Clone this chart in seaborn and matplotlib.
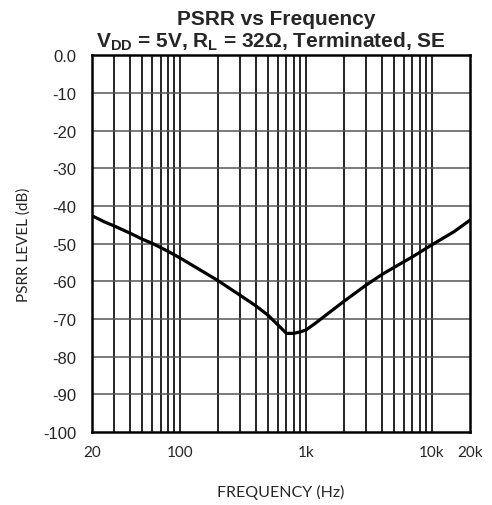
import numpy as np
import pandas as pd
import matplotlib
matplotlib.use("Agg")
import matplotlib.pyplot as plt
import seaborn as sns
from matplotlib.ticker import FixedLocator, NullFormatter

sns.set_style("white")
plt.rcParams["font.family"] = ["Liberation Sans", "DejaVu Sans"]
plt.rcParams["mathtext.fontset"] = "custom"
plt.rcParams["mathtext.rm"] = "Liberation Sans"
plt.rcParams["mathtext.bf"] = "Liberation Sans:bold"

# data
freq_hz = [20, 25, 30, 40, 50, 60, 80, 100, 150, 200, 300, 400, 500, 600, 700,
           800, 900, 1000, 1200, 1500, 2000, 3000, 4000, 5000, 7000, 10000,
           15000, 20000]
psrr_db = [-42.6, -44.2, -45.3, -47.2, -48.8, -49.9, -52.0, -53.8, -57.3, -59.8,
           -63.7, -66.5, -69.0, -71.6, -73.8, -73.8, -73.4, -72.9, -71.0, -68.5,
           -65.3, -61.0, -58.2, -56.3, -53.5, -50.3, -46.8, -43.8]

x_ticks = [20, 100, 1000, 10000, 20000]
x_labels = ["20", "100", "1k", "10k", "20k"]
y_ticks = [0, -10, -20, -30, -40, -50, -60, -70, -80, -90, -100]
y_labels = ["0.0", "-10", "-20", "-30", "-40", "-50", "-60", "-70", "-80", "-90", "-100"]

df = pd.DataFrame({"freq": freq_hz, "psrr": psrr_db})

fig = plt.figure(figsize=(4.92, 5.06), dpi=100)
ax = fig.add_axes([0.187, 0.144, 0.768, 0.745])

sns.lineplot(data=df, x="freq", y="psrr", color="black", linewidth=2.3, ax=ax, zorder=5)

ax.set_xscale("log")
ax.set_xlim(20, 20000)
ax.set_ylim(-100, 0)

# grid: every minor decade step + 10 dB
minor = [m * d for d in (10, 100, 1000, 10000) for m in range(1, 10) if 20 < m * d < 20000]
for f in minor:
    ax.axvline(f, color="black", linewidth=1.2, zorder=1)
for y in y_ticks[1:-1]:
    ax.axhline(y, color="#555555", linewidth=1.1, zorder=1)

ax.xaxis.set_major_locator(FixedLocator(x_ticks))
ax.xaxis.set_minor_locator(FixedLocator([]))
ax.xaxis.set_minor_formatter(NullFormatter())
ax.set_xticks(x_ticks)
ax.set_xticklabels(x_labels, fontfamily="Lato", fontsize=11)
ax.set_yticks(y_ticks)
ax.set_yticklabels(y_labels, fontsize=12)
ax.tick_params(axis="both", length=0)
ax.tick_params(axis="x", pad=9)
ax.tick_params(axis="y", pad=11)

for s in ax.spines.values():
    s.set_visible(True)
    s.set_color("black")
    s.set_linewidth(1.8)

ax.set_xlabel("FREQUENCY (Hz)", fontfamily="Lato", fontsize=11.5, labelpad=18)
ax.set_ylabel("PSRR LEVEL (dB)", fontfamily="Lato", fontsize=11, labelpad=9)

fig.text(0.562, 1 - 25 / 506, "PSRR vs Frequency", fontsize=15,
         fontweight="bold", ha="center", va="baseline")
fig.text(0.550, 1 - 48 / 506,
         r"$\mathbf{V_{DD}}$ = 5V, $\mathbf{R_L}$ = 32Ω, Terminated, SE",
         fontsize=15, fontweight="bold", ha="center", va="baseline")

fig.savefig("out.png", dpi=100)
